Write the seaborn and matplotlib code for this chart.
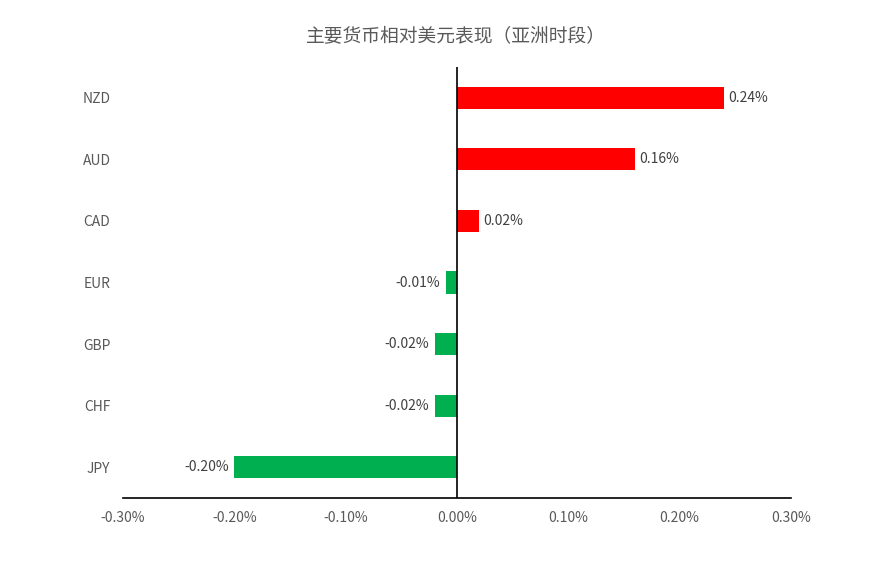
import pandas as pd
import matplotlib
matplotlib.use('Agg')
import matplotlib.pyplot as plt
import seaborn as sns
from matplotlib.ticker import PercentFormatter

currencies = ['NZD', 'AUD', 'CAD', 'EUR', 'GBP', 'CHF', 'JPY']
changes = [0.24, 0.16, 0.02, -0.01, -0.02, -0.02, -0.20]
x_ticks = [-0.30, -0.20, -0.10, 0.00, 0.10, 0.20, 0.30]
title = '主要货币相对美元表现（亚洲时段）'

df = pd.DataFrame({'Currency': currencies, 'Change': changes})
colors = ['#FF0000' if v > 0 else '#00B050' for v in changes]

sns.set_style('white')
plt.rcParams['font.family'] = ['Noto Sans CJK SC', 'DejaVu Sans']
plt.rcParams['axes.unicode_minus'] = False

fig = plt.figure(figsize=(8.81, 5.68), dpi=100)
ax = fig.add_axes([0.1396, 0.1232, 0.7582, 0.7588])

sns.barplot(data=df, x='Change', y='Currency', hue='Currency', palette=colors,
            orient='h', width=0.36, legend=False, ax=ax, saturation=1, linewidth=0)

ax.set_xlim(-0.30, 0.30)
ax.set_ylim(len(currencies) - 0.5, -0.5)
ax.set_xticks(x_ticks)
ax.xaxis.set_major_formatter(PercentFormatter(decimals=2))
ax.set_xlabel('')
ax.set_ylabel('')
ax.axvline(0, color='black', lw=1.2)

for s in ['top', 'right', 'left']:
    ax.spines[s].set_visible(False)
ax.spines['bottom'].set_color('black')
ax.spines['bottom'].set_linewidth(1.2)

ax.tick_params(axis='x', length=0, pad=9, labelsize=10, labelcolor='#595959')
ax.tick_params(axis='y', length=0, pad=9, labelsize=10, labelcolor='#595959')

for i, v in enumerate(changes):
    if v >= 0:
        ax.text(v + 0.004, i, f'{v:.2f}%', va='center', ha='left', fontsize=10, color='#404040')
    else:
        ax.text(v - 0.005, i, f'{v:.2f}%', va='center', ha='right', fontsize=10, color='#404040')

fig.suptitle(title, x=0.517, y=0.955, fontsize=13.5, color='#595959')

fig.savefig('out.png', dpi=100, facecolor='white')
